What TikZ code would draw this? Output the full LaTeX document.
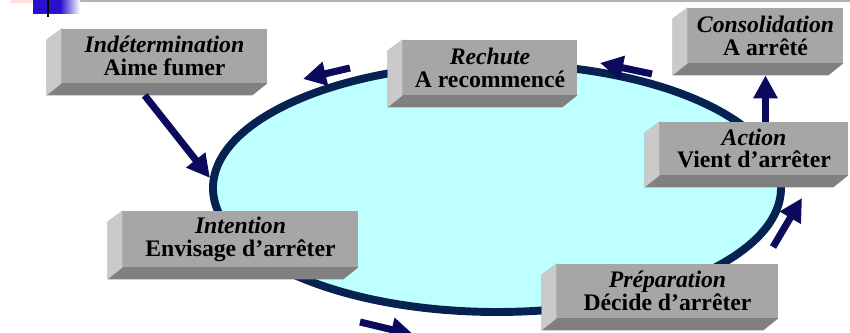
\documentclass[tikz,border=0pt]{standalone}
\usepackage{fontspec}
\setmainfont{Liberation Serif}
\usetikzlibrary{shapes.geometric,arrows.meta,calc}

\definecolor{fondcycle}{RGB}{190,255,255}
\definecolor{traitcycle}{RGB}{6,34,80}
\definecolor{fleche}{RGB}{12,10,92}
\definecolor{face}{RGB}{166,166,166}
\definecolor{cote}{RGB}{202,202,202}
\definecolor{dessous}{RGB}{128,128,128}
\definecolor{bleudeco}{RGB}{40,16,205}

\pgfdeclarelayer{fond}
\pgfdeclarelayer{relief}
\pgfsetlayers{fond,relief,main}

\begin{document}
\begin{tikzpicture}[%
    x=0.2mm, y=-0.2mm,
    >={Triangle[length=4.6mm, width=4.6mm]},
    etape/.style={fill=face, inner sep=0pt, align=center,
      font=\fontsize{13.5}{13}\selectfont\bfseries},
    fl/.style={->, draw=fleche, fill=fleche, line width=4pt}
  ]
    \useasboundingbox (0,0) rectangle (850,333);

    % bandeau du haut
    \fill[pink!50] (10,0) rectangle (45,3);
    \draw[gray!60, line width=1pt] (40,1) -- (850,1);
    \fill[bleudeco] (33,0) rectangle (60,14);
    \shade[left color=bleudeco, right color=white] (60,0) rectangle (80,14);
    \draw[line width=1.2pt] (48,0) -- (48,17);

    \begin{pgfonlayer}{fond}
      \node[ellipse, draw=traitcycle, fill=fondcycle, line width=4.5pt,
            minimum width=113.6mm, minimum height=49.6mm, inner sep=0pt]
            (roue) at (497,188) {};
    \end{pgfonlayer}

    \node[etape, minimum width=41mm, minimum height=10.8mm] (indet) at (164.5,56)
      {\textit{Indétermination}\\Aime fumer};
    \node[etape, minimum width=34.8mm, minimum height=11mm] (rechute) at (490,67.5)
      {\textit{Rechute}\\A recommencé};
    \node[etape, minimum width=31mm, minimum height=11mm] (cons) at (765.5,35.5)
      {\textit{Consolidation}\\A arrêté};
    \node[etape, minimum width=37.6mm, minimum height=10.6mm] (act) at (754,148.5)
      {\textit{Action}\\Vient d’arrêter};
    \node[etape, minimum width=47mm, minimum height=11.2mm] (inten) at (240.5,239)
      {\textit{Intention}\\Envisage d’arrêter};
    \node[etape, minimum width=44.2mm, minimum height=10.8mm] (prep) at (667.5,291)
      {\textit{Préparation}\\Décide d’arrêter};

    % relief des boites
    \begin{pgfonlayer}{relief}
      \foreach \n in {indet,rechute,cons,act,inten,prep} {
        \fill[dessous] (\n.north west) -- ++(-15,11) -- ($(\n.south west)+(-15,12)$)
          -- ($(\n.south east)+(-15,12)$) -- (\n.south east) -- cycle;
        \fill[cote] (\n.north west) -- ++(-15,11) -- ($(\n.south west)+(-15,12)$)
          -- (\n.south west) -- cycle;
      }
    \end{pgfonlayer}

    % sens du cycle
    \coordinate (h1) at (350,68);   \coordinate (h2) at (303,79);
    \coordinate (h3) at (652,74);   \coordinate (h4) at (600,63);
    \coordinate (b1) at (360,322);  \coordinate (b2) at (414,335);
    \coordinate (d1) at (773,247);  \coordinate (d2) at (802,198);

    \draw[fl] (h1) -- (h2);
    \draw[fl] (h3) -- (h4);
    \draw[fl] (b1) -- (b2);
    \draw[fl] (d1) -- (d2);
    \draw[fl] ($(indet.south west)+(83,12)$) -- (roue.178);
    \draw[fl] (act.north -| cons.south) -- ($(cons.south)+(0,12)$);
\end{tikzpicture}
\end{document}
